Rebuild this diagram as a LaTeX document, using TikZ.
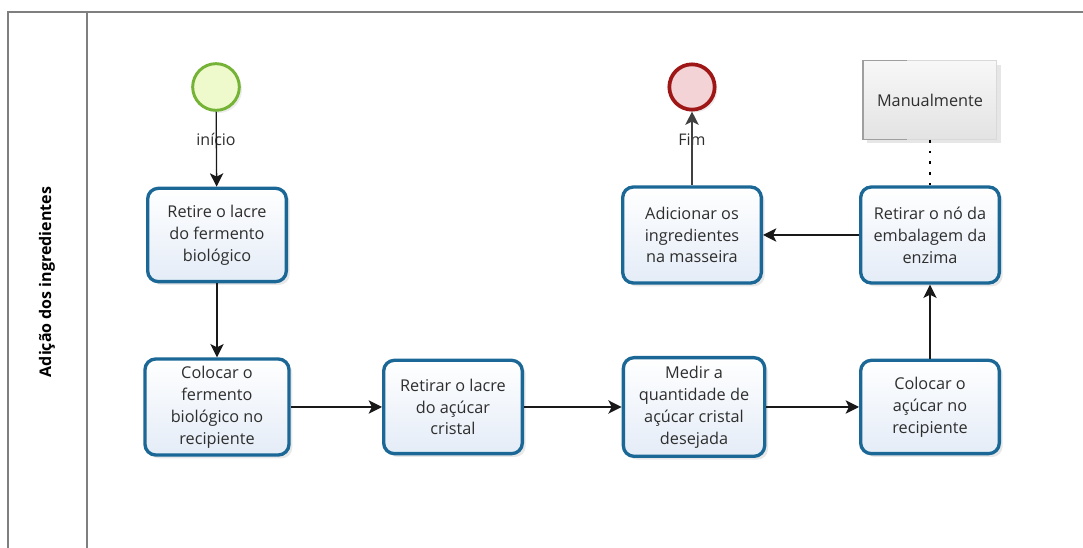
\documentclass[tikz,border=0pt]{standalone}
\usepackage{fontspec}
\setmainfont{Open Sans}
\usetikzlibrary{arrows.meta, shadows, positioning}
\definecolor{taskblue}{HTML}{1B6897}
\definecolor{taskfill}{HTML}{E4ECF7}
\definecolor{startgreen}{HTML}{74B335}
\definecolor{startfill}{HTML}{EEF9CC}
\definecolor{endred}{HTML}{9E1616}
\definecolor{endfill}{HTML}{F4D3D6}
\definecolor{lanegray}{HTML}{7F7F7F}
\definecolor{textgray}{HTML}{2E2E2E}

\begin{document}
\begin{tikzpicture}[x=0.75pt, y=-0.75pt,
    task/.style={draw=taskblue, line width=2.5pt, rounded corners=8pt,
        top color=white, bottom color=taskfill,
        drop shadow={shadow xshift=2.5pt, shadow yshift=-2.5pt, opacity=0.18},
        align=center, text=textgray, minimum width=104pt, minimum height=70pt,
        inner sep=2pt, font=\fontsize{12.2}{16.4}\selectfont},
    startev/.style={circle, draw=startgreen, line width=2.2pt, fill=startfill,
        drop shadow={shadow xshift=2pt, shadow yshift=-2pt, opacity=0.15},
        minimum size=35pt},
    endev/.style={circle, draw=endred, line width=2.8pt, fill=endfill,
        drop shadow={shadow xshift=2pt, shadow yshift=-2pt, opacity=0.15},
        minimum size=34pt},
    note/.style={draw=gray!30, top color=gray!6, bottom color=gray!22,
        drop shadow={shadow xshift=3pt, shadow yshift=-3pt, opacity=0.2},
        text=textgray, minimum width=100pt, minimum height=59pt,
        font=\fontsize{12.2}{14}\selectfont},
    flow/.style={-{Stealth[length=10pt, width=10pt, inset=2.5pt]}, line width=1pt, draw=black!90},
    evlabel/.style={text=textgray, font=\fontsize{12}{14}\selectfont},
    lane/.style={draw=lanegray, line width=1.1pt}]

    \useasboundingbox (0,0) rectangle (1083,548);

    % pool and lane
    \draw[lane] (8,548) |- (1083,12);
    \draw[lane] (87,12) -- (87,548);
    \node[rotate=90, text=black, font=\bfseries\fontsize{12}{14}\selectfont] (lanetitle) at (47,282) {Adição dos ingredientes};

    % events
    \node[startev] (start) at (216,87) {};
    \node[endev] (finish) at (692,87) {};
    \node[evlabel] (lblstart) at (216,139) {início};
    \node[evlabel] (lblfinish) at (692,140) {Fim};

    % tasks
    \node[task] (t1) at (217,235) {Retire o lacre\\do fermento\\biológico};
    \node[task, minimum width=108pt, minimum height=72pt] (t2) at (217,407) {Colocar o\\fermento\\biológico no\\recipiente};
    \node[task] (t3) at (453,407) {Retirar o lacre\\do açúcar\\cristal};
    \node[task, minimum width=106pt, minimum height=74pt] (t4) at (694,407) {Medir a\\quantidade de\\açúcar cristal\\desejada};
    \node[task] (t5) at (930,407) {Colocar o\\açúcar no\\recipiente};
    \node[task, minimum height=72pt] (t6) at (930,235) {Retirar o nó da\\embalagem da\\enzima};
    \node[task, minimum height=72pt] (t7) at (692,235) {Adicionar os\\ingredientes\\na masseira};

    % annotation
    \node[note] (manual) at (930,100) {Manualmente};
    \draw[gray!75, line width=1pt] ([xshift=33pt]manual.north west) -| (manual.south west) -- ++(33pt,0);

    % sequence flows
    \draw[flow] (start) -- (t1);
    \draw[flow] (t1) -- (t2);
    \draw[flow] (t2) -- (t3);
    \draw[flow] (t3) -- (t4);
    \draw[flow] (t4) -- (t5);
    \draw[flow] (t5) -- (t6);
    \draw[flow] (t6) -- (t7);
    \draw[flow, draw=black!75] (t7) -- (finish);

    % association
    \draw[line width=2.2pt, dash pattern=on 2.2pt off 6pt] (manual.south) -- (t6.north);
\end{tikzpicture}
\end{document}
